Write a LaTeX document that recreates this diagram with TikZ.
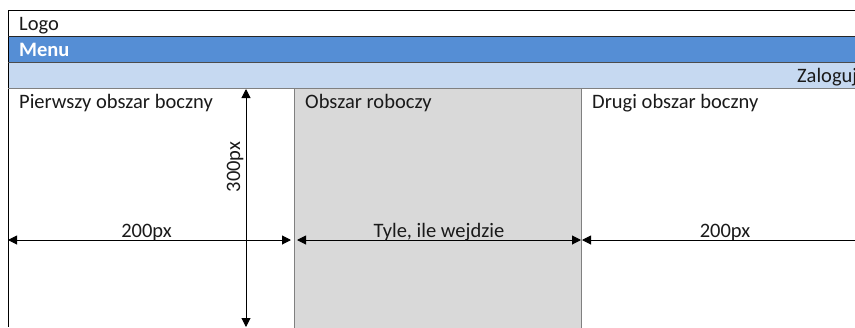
\documentclass[tikz,border=0pt]{standalone}
\usepackage{fontspec}
\setmainfont{Carlito}
\usetikzlibrary{arrows.meta}
\definecolor{menublue}{HTML}{558ED5}
\definecolor{barblue}{HTML}{C6D9F1}
\definecolor{workgray}{HTML}{D9D9D9}
\definecolor{edgegray}{HTML}{808080}
\definecolor{txt}{HTML}{1A1A1A}
\tikzset{
  row/.style={draw=none, minimum width=847pt, minimum height=26pt, anchor=north west, inner sep=0pt},
  lbl/.style={font=\fontsize{20.5pt}{22pt}\selectfont, text=txt, inner sep=0pt, anchor=base west},
  dim/.style={line width=1pt, {Triangle[length=9pt,width=9pt]}-{Triangle[length=9pt,width=9pt]}},
}
\begin{document}
\begin{tikzpicture}[x=1pt,y=-1pt]
\useasboundingbox (0,0) rectangle (855,327);
\fill[white] (0,0) rectangle (855,327);
% rows
\node[row, fill=white] (logo) at (8,10) {};
\node[row, fill=menublue] (menu) at (8,36) {};
\node[row, fill=barblue, minimum height=26pt] (bar) at (8,62) {};
% work area
\node[draw=edgegray, line width=1pt, fill=workgray, minimum width=287pt, minimum height=245pt, anchor=north west, inner sep=0pt] (work) at (294,88) {};
\node[draw=none, minimum width=286pt, minimum height=239pt, anchor=north west, inner sep=0pt] (left) at (8,88) {};
\node[draw=none, minimum width=274pt, minimum height=239pt, anchor=north west, inner sep=0pt] (right) at (581,88) {};
% lines
\draw[line width=1pt, black] (logo.north west) -- (logo.north east);
\draw[line width=1pt, black] (logo.north west) -- (left.south west);
\draw[line width=1pt, black!85] (logo.south west) -- (logo.south east);
\draw[line width=1pt, black!70] (menu.south west) -- (menu.south east);
\draw[line width=1pt, edgegray] (bar.south west) -- (bar.south east);
% texts
\node[lbl] (tlogo) at (19,30) {Logo};
\node[lbl, text=white, font=\fontsize{20.5pt}{22pt}\selectfont\bfseries] (tmenu) at (19,56) {Menu};
\node[lbl] (tzal) at (797,82) {Zaloguj};
\node[lbl] (tleft) at (19,108) {Pierwszy obszar boczny};
\node[lbl] (twork) at (305,108) {Obszar roboczy};
\node[lbl] (tright) at (592,108) {Drugi obszar boczny};
% dimension coordinates
\coordinate (vt) at (246,89);
\coordinate (vb) at (246,327);
\coordinate (l1) at (8,240);
\coordinate (l2) at (291,240);
\coordinate (w1) at (297,240);
\coordinate (w2) at (581,240);
\coordinate (r1) at (582,240);
\coordinate (r2) at (880,240);
\draw[dim] (vt) -- (vb);
\draw[dim] (l1) -- node[lbl, anchor=base, pos=0.5, xshift=-3pt, yshift=3pt] (d1) {200px} (l2);
\draw[dim] (w1) -- node[lbl, anchor=base, pos=0.5, yshift=3pt] (d2) {Tyle, ile wejdzie} (w2);
\node[lbl, anchor=base] (d3) at (725,237) {200px};
\draw[dim] (r1) -- (r2);
\node[lbl, rotate=90, anchor=base] (d4) at (240,167) {300px};
\end{tikzpicture}
\end{document}
